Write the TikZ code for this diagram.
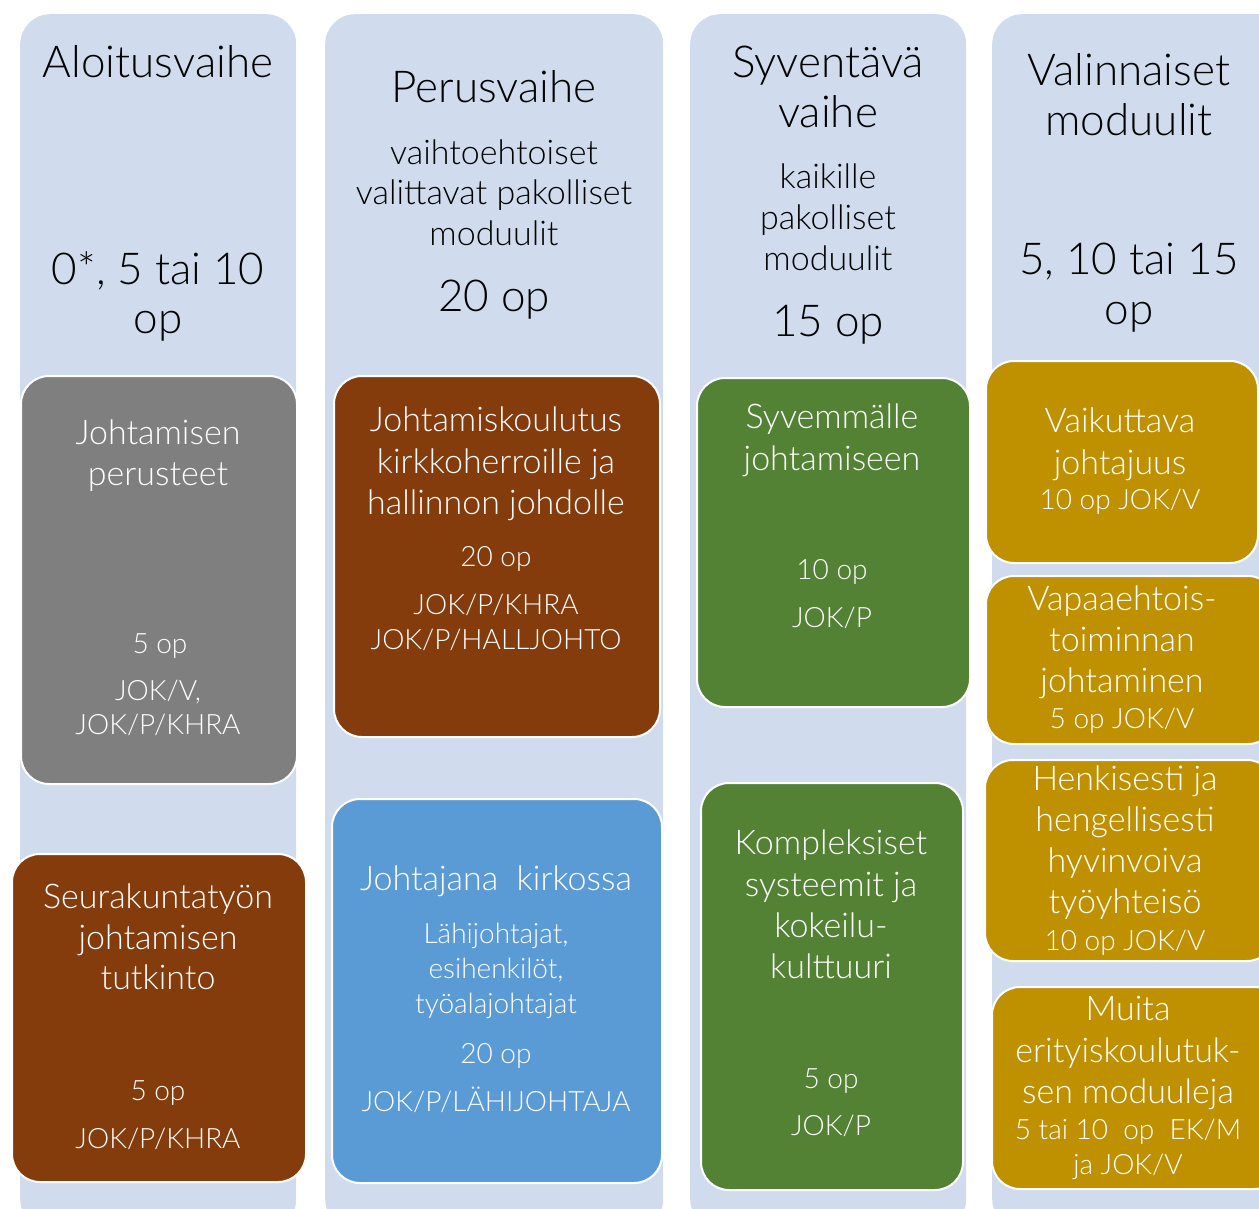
\documentclass[tikz,border=0pt]{standalone}
\usepackage{fontspec}
\setmainfont{Lato Light}
\definecolor{colbg}{HTML}{D0DCEE}
\definecolor{cgray}{HTML}{7F7F7F}
\definecolor{cbrown}{HTML}{843C0C}
\definecolor{cblue}{HTML}{5B9BD5}
\definecolor{cgreen}{HTML}{548235}
\definecolor{cgold}{HTML}{BF9000}
\begin{document}
\begin{tikzpicture}[x=1pt,y=-1pt,
  colbox/.style={fill=colbg, rounded corners=30pt, inner sep=0pt, anchor=north west},
  modbox/.style={draw=white, line width=2pt, rounded corners=28pt, inner sep=0pt, anchor=north west},
  big/.style={font=\fontsize{44}{50}\selectfont, anchor=base, inner sep=0pt, text=black},
  med/.style={font=\fontsize{34}{40}\selectfont, anchor=base, inner sep=0pt, text=black},
  wmed/.style={font=\fontsize{34}{40}\selectfont, anchor=base, inner sep=0pt, text=white},
  wsml/.style={font=\fontsize{28}{34}\selectfont, anchor=base, inner sep=0pt, text=white}]
\useasboundingbox (0,0) rectangle (1259,1209);
% columns
\node[colbox, minimum width=276pt, minimum height=1215pt] (c1) at (20,14) {};
\node[colbox, minimum width=338pt, minimum height=1215pt] (c2) at (325,14) {};
\node[colbox, minimum width=276pt, minimum height=1215pt] (c3) at (690,14) {};
\node[colbox, minimum width=300pt, minimum height=1215pt] (c4) at (992,14) {};
% module boxes
\node[modbox, fill=cgray, minimum width=276pt, minimum height=408pt] (b1) at (20,375) {};
\node[modbox, fill=cbrown, minimum width=294pt, minimum height=328pt] (b2) at (11,853) {};
\node[modbox, fill=cbrown, minimum width=326pt, minimum height=361pt] (b3) at (333,375) {};
\node[modbox, fill=cblue, minimum width=330pt, minimum height=384pt] (b4) at (331,798) {};
\node[modbox, fill=cgreen, minimum width=273pt, minimum height=329pt] (b5) at (696,377) {};
\node[modbox, fill=cgreen, minimum width=262pt, minimum height=407pt] (b6) at (700,782) {};
\node[modbox, fill=cgold, minimum width=272pt, minimum height=202pt] (b7) at (985,360) {};
\node[modbox, fill=cgold, minimum width=290pt, minimum height=168pt] (b8) at (985,575) {};
\node[modbox, fill=cgold, minimum width=290pt, minimum height=201pt] (b9) at (984,759) {};
\node[modbox, fill=cgold, minimum width=290pt, minimum height=202pt] (b10) at (991,986) {};
% column headers
\node[big] (h1a) at (158,78) {Aloitusvaihe};
\node[big] (h1b) at (158,285) {0*, 5 tai 10};
\node[big] (h1c) at (158,333) {op};
\node[big] (h2a) at (494,103) {Perusvaihe};
\node[med] (h2b) at (494,165) {vaihtoehtoiset};
\node[med] (h2c) at (494,205) {valittavat pakolliset};
\node[med] (h2d) at (494,246) {moduulit};
\node[big] (h2e) at (494,311) {20 op};
\node[big] (h3a) at (828,78) {Syventävä};
\node[big] (h3b) at (828,128) {vaihe};
\node[med] (h3c) at (828,189) {kaikille};
\node[med] (h3d) at (828,230) {pakolliset};
\node[med] (h3e) at (828,271) {moduulit};
\node[big] (h3f) at (828,336) {15 op};
\node[big] (h4a) at (1129,86) {Valinnaiset};
\node[big] (h4b) at (1129,136) {moduulit};
\node[big] (h4c) at (1129,275) {5, 10 tai 15};
\node[big] (h4d) at (1129,324) {op};
% box 1
\node[wmed] (t1a) at (158,444) {Johtamisen};
\node[wmed] (t1b) at (158,485) {perusteet};
\node[wsml] (t1c) at (160,653) {5 op};
\node[wsml] (t1d) at (158,700) {JOK/V,};
\node[wsml] (t1e) at (158,734) {JOK/P/KHRA};
% box 2
\node[wmed] (t2a) at (158,908) {Seurakuntatyön};
\node[wmed] (t2b) at (158,949) {johtamisen};
\node[wmed] (t2c) at (158,989) {tutkinto};
\node[wsml] (t2d) at (158,1100) {5 op};
\node[wsml] (t2e) at (158,1148) {JOK/P/KHRA};
% box 3
\node[wmed] (t3a) at (496,431) {Johtamiskoulutus};
\node[wmed] (t3b) at (496,473) {kirkkoherroille ja};
\node[wmed] (t3c) at (496,514) {hallinnon johdolle};
\node[wsml] (t3d) at (496,566) {20 op};
\node[wsml] (t3e) at (496,614) {JOK/P/KHRA};
\node[wsml] (t3f) at (496,649) {JOK/P/HALLJOHTO};
% box 4
\node[wmed] (t4a) at (496,890) {Johtajana\ \ kirkossa};
\node[wsml] (t4b) at (496,943) {Lähijohtajat,};
\node[wsml] (t4c) at (496,978) {esihenkilöt,};
\node[wsml] (t4d) at (496,1013) {työalajohtajat};
\node[wsml] (t4e) at (496,1063) {20 op};
\node[wsml] (t4f) at (496,1111) {JOK/P/LÄHIJOHTAJA};
% box 5
\node[wmed] (t5a) at (832,428) {Syvemmälle};
\node[wmed] (t5b) at (832,470) {johtamiseen};
\node[wsml] (t5c) at (832,579) {10 op};
\node[wsml] (t5d) at (832,627) {JOK/P};
% box 6
\node[wmed] (t6a) at (831,854) {Kompleksiset};
\node[wmed] (t6b) at (831,896) {systeemit ja};
\node[wmed] (t6c) at (831,937) {kokeilu-};
\node[wmed] (t6d) at (831,978) {kulttuuri};
\node[wsml] (t6e) at (831,1088) {5 op};
\node[wsml] (t6f) at (831,1135) {JOK/P};
% box 7
\node[wmed] (t7a) at (1120,432) {Vaikuttava};
\node[wmed] (t7b) at (1120,474) {johtajuus};
\node[wsml] (t7c) at (1120,509) {10 op JOK/V};
% box 8
\node[wmed] (t8a) at (1122,610) {Vapaaehtois-};
\node[wmed] (t8b) at (1122,651) {toiminnan};
\node[wmed] (t8c) at (1122,692) {johtaminen};
\node[wsml] (t8d) at (1122,728) {5 op JOK/V};
% box 9
\node[wmed] (t9a) at (1125,790) {Henkisesti ja};
\node[wmed] (t9b) at (1125,831) {hengellisesti};
\node[wmed] (t9c) at (1125,872) {hyvinvoiva};
\node[wmed] (t9d) at (1125,913) {työyhteisö};
\node[wsml] (t9e) at (1125,950) {10 op JOK/V};
% box 10
\node[wmed] (t10a) at (1128,1020) {Muita};
\node[wmed] (t10b) at (1128,1062) {erityiskoulutuk-};
\node[wmed] (t10c) at (1128,1103) {sen moduuleja};
\node[wsml] (t10d) at (1128,1139) {5 tai 10\ \ op\ \ EK/M};
\node[wsml] (t10e) at (1128,1174) {ja JOK/V};
\end{tikzpicture}
\end{document}
